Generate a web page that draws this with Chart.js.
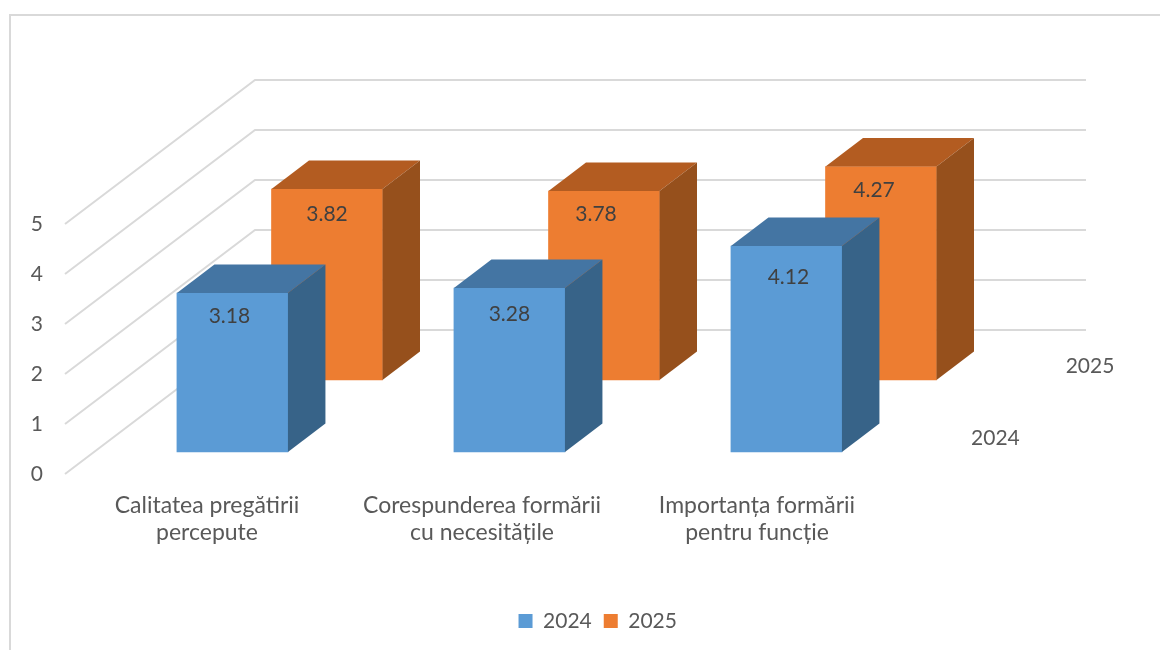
<!DOCTYPE html>
<html>
<head>
<meta charset="utf-8">
<title>Chart</title>
<style>
  html, body { margin: 0; padding: 0; background: #fff; overflow: hidden; }
  canvas { display: block; }
</style>
<script src="https://cdn.jsdelivr.net/npm/chart.js@4/dist/chart.umd.min.js"></script>
</head>
<body>
<canvas id="chart" width="1160" height="650"></canvas>
<script>
const categories = [
  ["Calitatea pregătirii", "percepute"],
  ["Corespunderea formării", "cu necesitățile"],
  ["Importanța formării", "pentru funcție"]
];
const values2024 = [3.18, 3.28, 4.12];
const values2025 = [3.82, 3.78, 4.27];
const yTicks = [0, 1, 2, 3, 4, 5];

const BLUE = "#5B9BD5", BLUE_TOP = "#4475A3", BLUE_SIDE = "#376388";
const ORANGE = "#ED7D31", ORANGE_TOP = "#B35C21", ORANGE_SIDE = "#96501C";
const GRID = "#D9D9D9";
const FONT = "Lato";

// depth of a bar and of the whole floor, in pixels
const barDepth = { x: 37.5, y: 28.5 };
const wall = { left: 65, depthX: 190, depthY: 144, right: 1086 };
// labels in the original do not sit centred in the bars
const labelNudge = {
  "2024": [[-3, 23], [0, 26], [2, 31]],
  "2025": [[0, 25], [-8, 23], [-7, 24]]
};

const walls3d = {
  id: "walls3d",
  beforeDraw(chart) {
    const ctx = chart.ctx;
    ctx.save();
    ctx.strokeStyle = GRID;
    ctx.lineWidth = 2;
    ctx.beginPath();
    ctx.moveTo(10, 650);
    ctx.lineTo(10, 15);
    ctx.lineTo(1160, 15);
    ctx.stroke();
    ctx.restore();
  },
  beforeDatasetsDraw(chart) {
    const ctx = chart.ctx;
    const y = chart.scales.y;
    ctx.save();
    ctx.strokeStyle = GRID;
    ctx.lineWidth = 2;
    yTicks.forEach(v => {
      const py = y.getPixelForValue(v);
      ctx.beginPath();
      ctx.moveTo(wall.left, py);
      ctx.lineTo(wall.left + wall.depthX, py - wall.depthY);
      ctx.lineTo(wall.right, py - wall.depthY);
      ctx.stroke();
    });
    ctx.restore();
  }
};

const bars3d = {
  id: "bars3d",
  afterDatasetDraw(chart, args) {
    const ctx = chart.ctx;
    const ds = chart.data.datasets[args.index];
    const nudge = labelNudge[ds.label];
    ctx.save();
    args.meta.data.forEach((bar, i) => {
      const l = bar.x - bar.width / 2;
      const r = bar.x + bar.width / 2;
      ctx.fillStyle = ds.topColor;
      ctx.beginPath();
      ctx.moveTo(l, bar.y);
      ctx.lineTo(l + barDepth.x, bar.y - barDepth.y);
      ctx.lineTo(r + barDepth.x, bar.y - barDepth.y);
      ctx.lineTo(r, bar.y);
      ctx.closePath();
      ctx.fill();
      ctx.fillStyle = ds.sideColor;
      ctx.beginPath();
      ctx.moveTo(r, bar.y);
      ctx.lineTo(r + barDepth.x, bar.y - barDepth.y);
      ctx.lineTo(r + barDepth.x, bar.base - barDepth.y);
      ctx.lineTo(r, bar.base);
      ctx.closePath();
      ctx.fill();

      ctx.fillStyle = "#404040";
      ctx.font = "21px " + FONT;
      ctx.textAlign = "center";
      ctx.textBaseline = "middle";
      ctx.fillText(ds.data[i].y.toFixed(2), bar.x + nudge[i][0], bar.y + nudge[i][1]);
    });
    // series name on the depth axis
    const last = args.meta.data[args.meta.data.length - 1];
    ctx.fillStyle = "#595959";
    ctx.font = "21px " + FONT;
    ctx.textAlign = "center";
    ctx.textBaseline = "middle";
    ctx.fillText(ds.label, last.x + 209, last.base - 13.5);
    ctx.restore();
  }
};

new Chart(document.getElementById("chart"), {
  type: "bar",
  data: {
    datasets: [
      {
        label: "2024",
        data: values2024.map((v, i) => ({ x: i, y: v })),
        backgroundColor: BLUE,
        topColor: BLUE_TOP,
        sideColor: BLUE_SIDE,
        xAxisID: "xFront",
        yAxisID: "yFront",
        grouped: false,
        barThickness: 111
      },
      {
        label: "2025",
        data: values2025.map((v, i) => ({ x: i, y: v })),
        backgroundColor: ORANGE,
        topColor: ORANGE_TOP,
        sideColor: ORANGE_SIDE,
        xAxisID: "xBack",
        yAxisID: "yBack",
        grouped: false,
        barThickness: 111
      }
    ]
  },
  plugins: [walls3d, bars3d],
  options: {
    responsive: false,
    animation: false,
    layout: { padding: { top: 74, left: 31, right: -4.5, bottom: 8.5 } },
    scales: {
      x: {
        type: "linear",
        position: "bottom",
        offset: false,
        min: -0.5018,
        max: 3.4655,
        grid: { display: false, drawTicks: false },
        border: { display: false },
        afterFit(scale) {
          scale.height = 124.5;
          scale.paddingLeft = 0;
          scale.paddingRight = 0;
        },
        afterBuildTicks(scale) { scale.ticks = categories.map((c, i) => ({ value: i })); },
        ticks: {
          autoSkip: false,
          maxRotation: 0,
          padding: 18,
          color: "#595959",
          font: { family: FONT, size: 23, lineHeight: 27 / 23 },
          callback: v => categories[v]
        }
      },
      y: {
        type: "linear",
        position: "left",
        min: 0,
        max: 8,
        grid: { display: false, drawTicks: false },
        border: { display: false },
        afterFit(scale) {
          scale.width = 38;
          scale.paddingTop = 0;
          scale.paddingBottom = 0;
        },
        afterBuildTicks(scale) { scale.ticks = yTicks.map(v => ({ value: v })); },
        ticks: {
          padding: 26,
          color: "#595959",
          font: { family: FONT, size: 21 }
        }
      },
      xFront: { type: "linear", display: false, offset: false, min: -0.59, max: 3.3486 },
      xBack: { type: "linear", display: false, offset: false, min: -0.9314, max: 3.0072 },
      yFront: { type: "linear", display: false, min: -0.44, max: 7.56 },
      yBack: { type: "linear", display: false, min: -1.88, max: 6.12 }
    },
    plugins: {
      tooltip: { enabled: false },
      legend: {
        position: "bottom",
        labels: {
          boxWidth: 14,
          boxHeight: 14,
          padding: 12,
          color: "#595959",
          font: { family: FONT, size: 21 }
        }
      }
    }
  }
});
</script>
</body>
</html>
